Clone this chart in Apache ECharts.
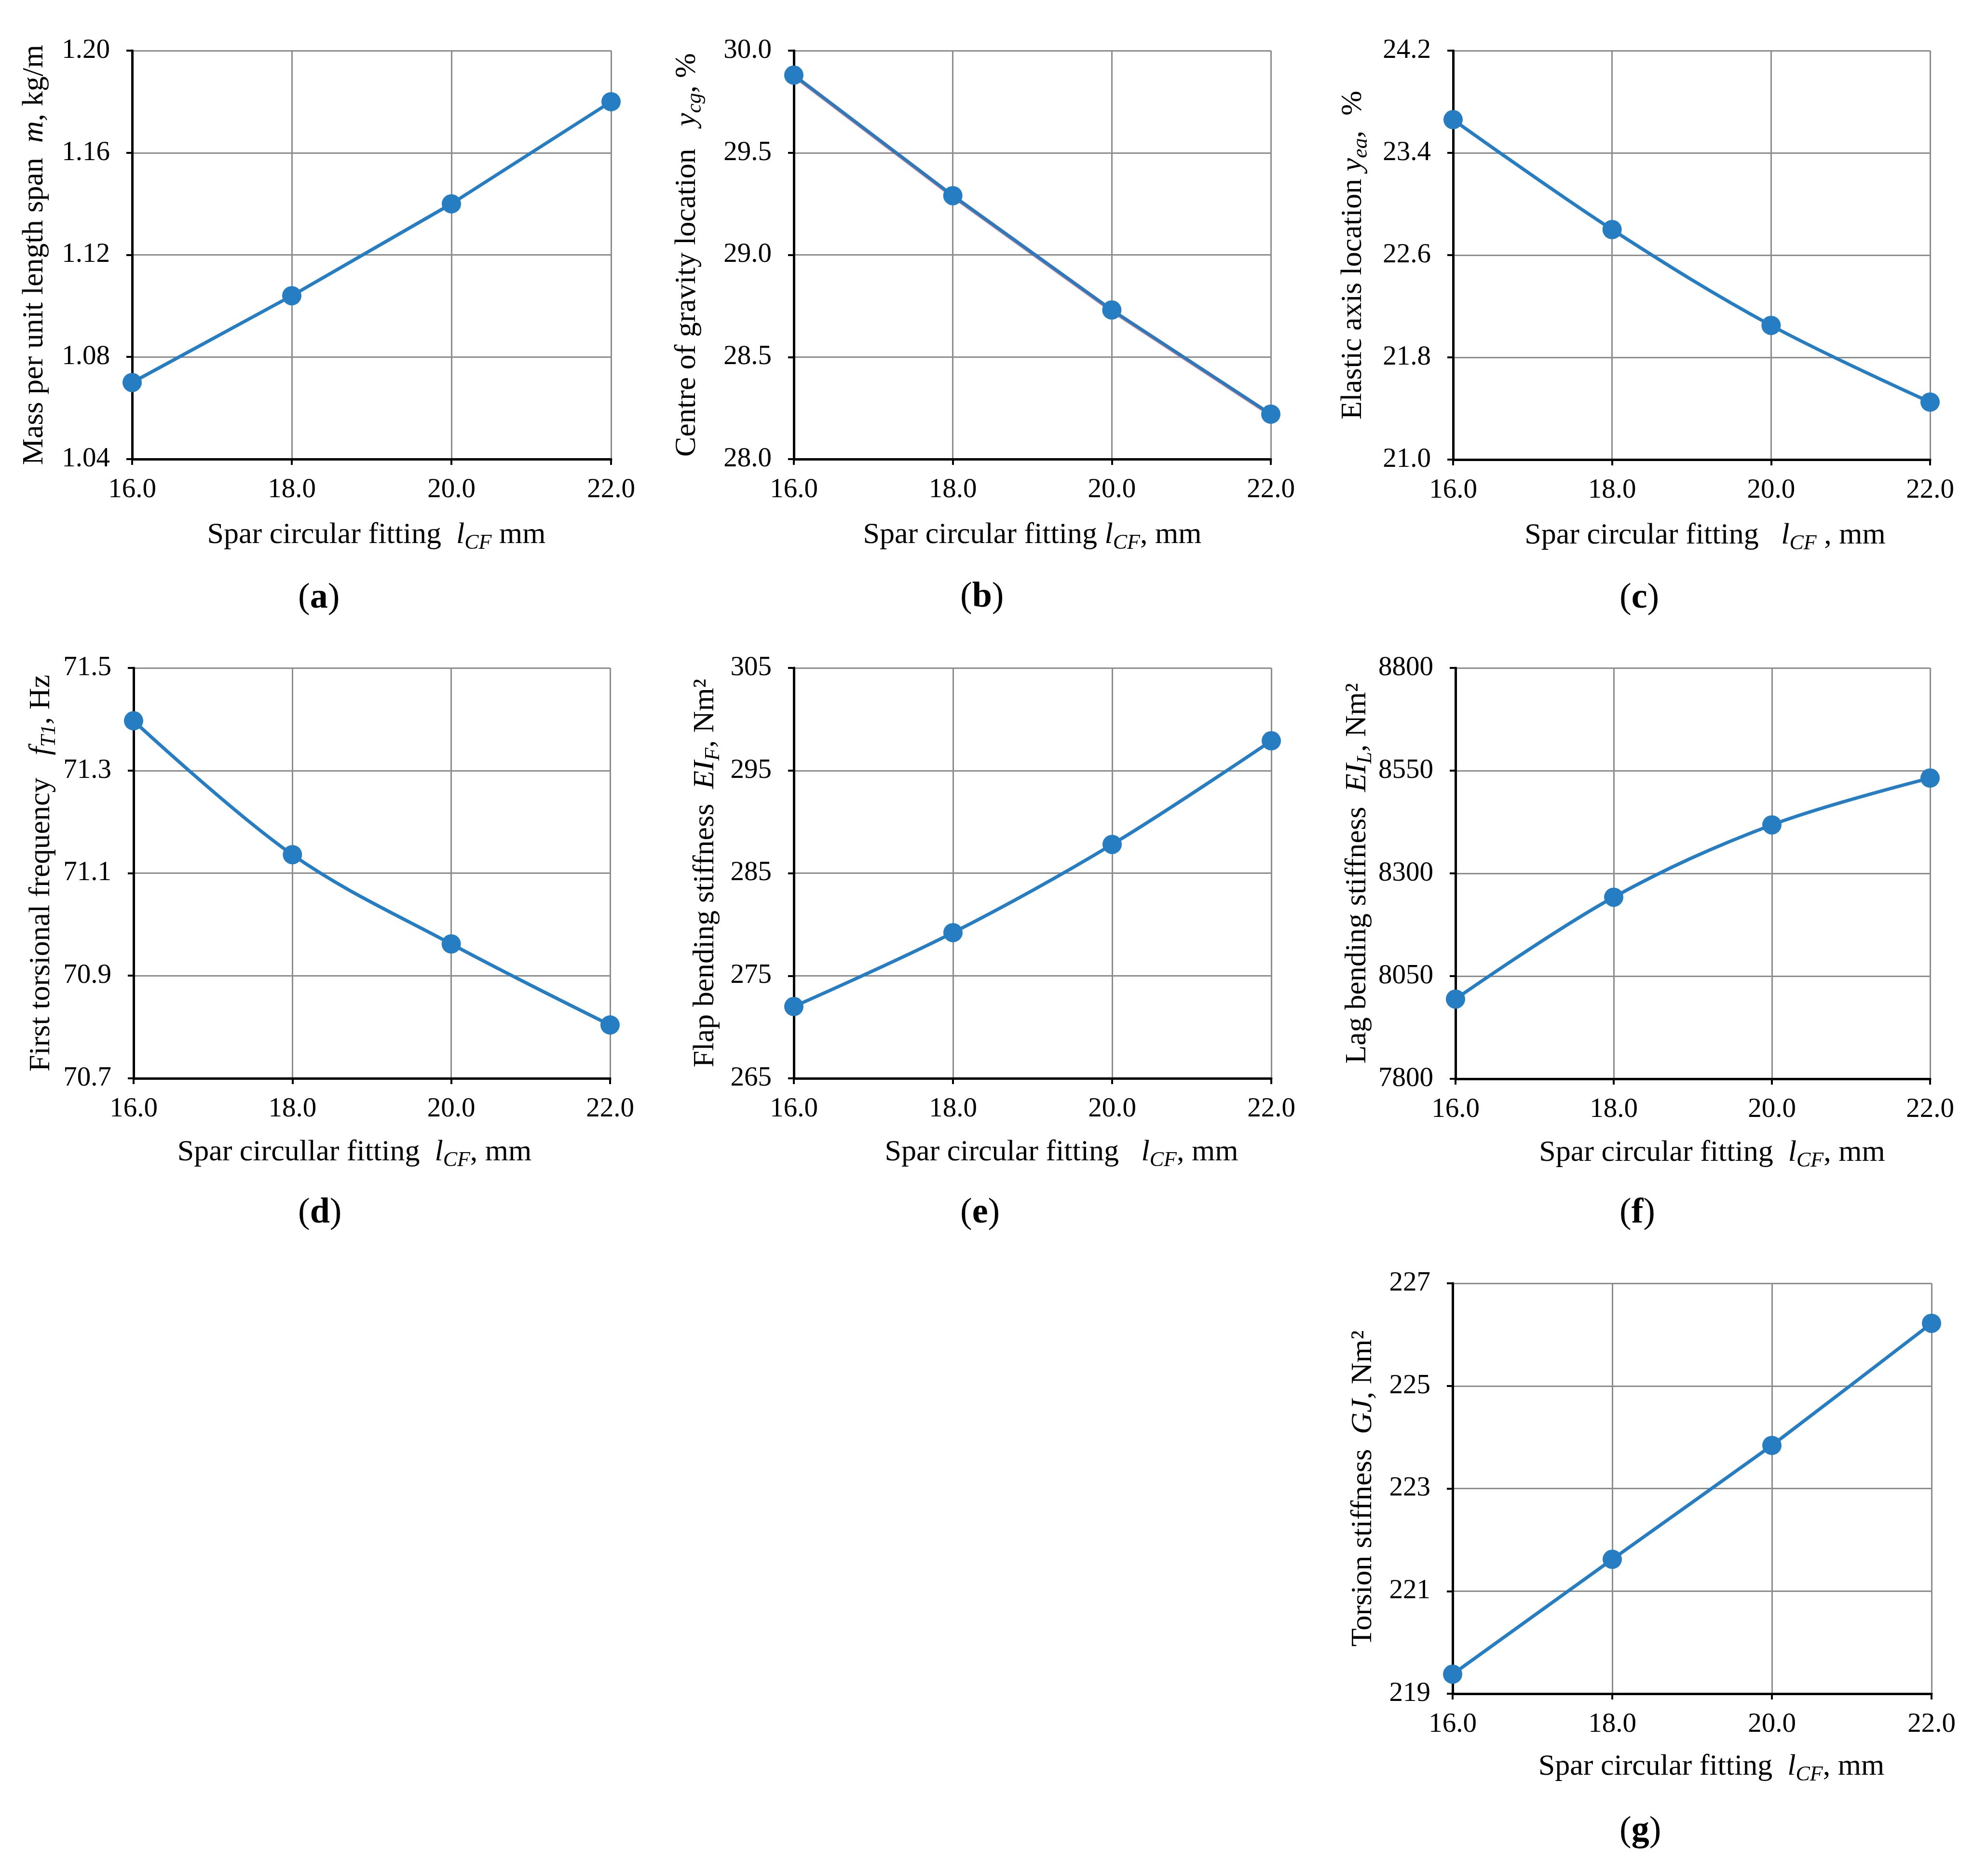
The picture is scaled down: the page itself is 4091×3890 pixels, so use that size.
<!DOCTYPE html>
<html>
<head>
<meta charset="utf-8">
<script src="https://cdn.jsdelivr.net/npm/echarts@6/dist/echarts.min.js"></script>
<style>
html,body{margin:0;padding:0;background:#fff;}
#chart{width:4091px;height:3890px;}
</style>
</head>
<body>
<div id="chart"></div>
<script>
// ---- data ----
const xValues = [16, 18, 20, 22];
const xTicks = {min: 16, max: 22, interval: 2};

const massPerLength    = [1.070, 1.104, 1.140, 1.180];
const cgLocation       = [29.88, 29.29, 28.73, 28.22];
const eaLocation       = [23.66, 22.80, 22.05, 21.45];
const torsionalFreq    = [71.397, 71.136, 70.962, 70.804];
const flapStiffness    = [272.0, 279.2, 287.8, 297.9];
const lagStiffness     = [7994, 8242, 8418, 8532];
const torsionStiffness = [219.38, 221.62, 223.84, 226.22];

const yMins      = [1.04, 28.0, 21.0, 70.7, 265, 7800, 219];
const yMaxs      = [1.20, 30.0, 24.2, 71.5, 305, 8800, 227];
const yIntervals = [0.04, 0.5, 0.8, 0.2, 10, 250, 2];
const yDecimals  = [2, 1, 1, 1, 0, 0, 0];

const subLabels = ['a', 'b', 'c', 'd', 'e', 'f', 'g'];

const yTitles = [
  '{n|Mass per unit length span  }{i|m}{n|, kg/m}',
  '{n|Centre of gravity location   }{i|y}{s|cg}{n|, %}',
  '{n|Elastic axis location }{i|y}{s|ea}{n|,  %}',
  '{n|First torsional frequency   }{i|f}{s|T1}{n|, Hz}',
  '{n|Flap bending stiffness  }{i|EI}{s|F}{n|, Nm²}',
  '{n|Lag bending stiffness  }{i|EI}{s|L}{n|, Nm²}',
  '{n|Torsion stiffness  }{i|GJ}{n|, Nm²}'
];
const xTitles = [
  '{n|Spar circular fitting  }{i|l}{s|CF}{n| mm}',
  '{n|Spar circular fitting }{i|l}{s|CF}{n|, mm}',
  '{n|Spar circular fitting   }{i|l}{s|CF}{n| , mm}',
  '{n|Spar circullar fitting  }{i|l}{s|CF}{n|, mm}',
  '{n|Spar circular fitting   }{i|l}{s|CF}{n|, mm}',
  '{n|Spar circular fitting  }{i|l}{s|CF}{n|, mm}',
  '{n|Spar circular fitting  }{i|l}{s|CF}{n|, mm}'
];
const seriesValues = [massPerLength, cgLocation, eaLocation, torsionalFreq, flapStiffness, lagStiffness, torsionStiffness];

// ---- layout (px) ----
const grids = [
  {left: 274, top: 105, width: 993, height: 847},
  {left: 1646, top: 105, width: 989, height: 847},
  {left: 3013, top: 105, width: 989, height: 848},
  {left: 277, top: 1385, width: 988, height: 851},
  {left: 1646, top: 1385, width: 990, height: 851},
  {left: 3018, top: 1385, width: 984, height: 852},
  {left: 3012, top: 2661, width: 993, height: 851}
];
const yNameGaps = [164, 183, 169, 153, 145, 165, 147];
const xNameGaps = [120, 120, 120, 116, 116, 116, 114];
const xNameShift = [10, 0, 28, -36, 60, 40, 40];
const smoothVals = [0, 0, 0.35, 0.35, 0.35, 0.35, 0.1];
const subPos = [[668, 1250], [2041, 1248], [3408, 1250], [668, 2525], [2041, 2525], [3408, 2525], [3408, 3807]];

const FONT = '"Liberation Serif", "Times New Roman", serif';
const BLUE = '#267dc1';
const richStyles = {
  n: {fontSize: 62, fontFamily: FONT, color: '#000', lineHeight: 76, verticalAlign: 'middle'},
  i: {fontSize: 62, fontFamily: FONT, fontStyle: 'italic', color: '#000', lineHeight: 76, verticalAlign: 'middle'},
  s: {fontSize: 44, fontFamily: FONT, fontStyle: 'italic', color: '#000', lineHeight: 46, verticalAlign: 'bottom'}
};

const option = {
  backgroundColor: '#fff',
  animation: false,
  grid: grids.map(g => Object.assign({containLabel: false}, g)),
  xAxis: grids.map((g, k) => ({
    type: 'value', gridIndex: k,
    min: xTicks.min, max: xTicks.max, interval: xTicks.interval,
    name: xTitles[k], nameLocation: 'middle', nameGap: xNameGaps[k],
    nameTextStyle: {rich: richStyles, padding: xNameShift[k] >= 0 ? [0, 0, 0, 2 * xNameShift[k]] : [0, -2 * xNameShift[k], 0, 0]},
    axisLine: {show: true, onZero: false, lineStyle: {color: '#000', width: 5}},
    axisTick: {show: true, length: 12, lineStyle: {color: '#000', width: 4}},
    axisLabel: {margin: 36, fontSize: 57, fontFamily: FONT, color: '#000', formatter: v => v.toFixed(1)},
    splitLine: {show: true, lineStyle: {color: '#8c8c8c', width: 3}}
  })),
  yAxis: grids.map((g, k) => ({
    type: 'value', gridIndex: k,
    min: yMins[k], max: yMaxs[k], interval: yIntervals[k],
    name: yTitles[k], nameLocation: 'middle', nameGap: yNameGaps[k], nameRotate: 90,
    nameTextStyle: {rich: richStyles},
    axisLine: {show: true, onZero: false, lineStyle: {color: '#000', width: 5}},
    axisTick: {show: true, length: 12, lineStyle: {color: '#000', width: 4}},
    axisLabel: {margin: 46, fontSize: 57, fontFamily: FONT, color: '#000', formatter: v => v.toFixed(yDecimals[k])},
    splitLine: {show: true, lineStyle: {color: '#8c8c8c', width: 3}}
  })),
  series: seriesValues.map((vals, k) => ({
    type: 'line', xAxisIndex: k, yAxisIndex: k,
    data: xValues.map((x, i) => [x, vals[i]]),
    smooth: smoothVals[k],
    symbol: 'circle', symbolSize: 40,
    clip: false,
    itemStyle: {color: BLUE},
    lineStyle: k === 1
      ? {color: '#2f78bb', width: 7, shadowColor: 'rgba(190,70,80,0.55)', shadowBlur: 0, shadowOffsetY: 2}
      : {color: BLUE, width: 7},
    z: 3
  })),
  graphic: subLabels.map((s, k) => ({
    type: 'text', left: subPos[k][0] - 50, top: subPos[k][1] - 46,
    style: {
      text: '{p|(}{b|' + s + '}{p|)}',
      rich: {
        p: {fontSize: 74, fontFamily: FONT, color: '#000'},
        b: {fontSize: 74, fontFamily: FONT, fontWeight: 'bold', color: '#000'}
      }
    }
  }))
};

const chart = echarts.init(document.getElementById('chart'), null, {renderer: 'canvas', width: 4091, height: 3890});
chart.setOption(option);
</script>
</body>
</html>
